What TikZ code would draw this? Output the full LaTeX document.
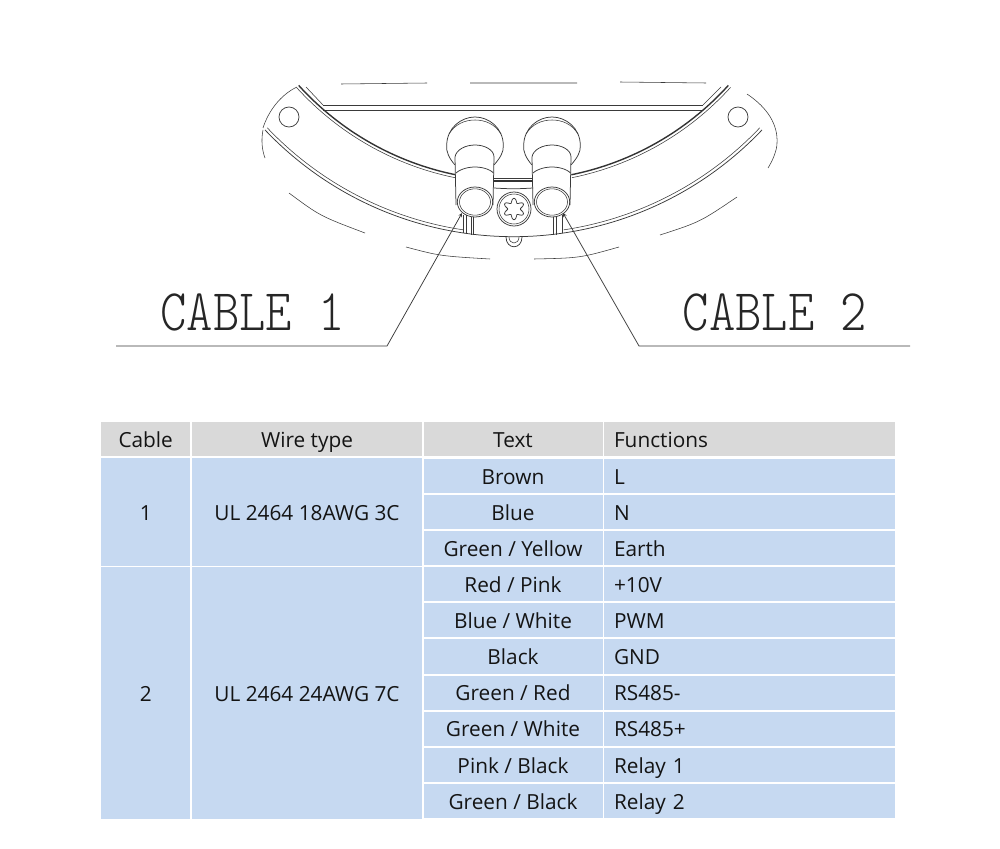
\documentclass[tikz,border=0pt]{standalone}
\usepackage{fontspec}
\setmainfont{Open Sans}
\newfontfamily\cablefont{Latin Modern Mono Light}
\usetikzlibrary{positioning}
\definecolor{headgray}{HTML}{D9D9D9}
\definecolor{rowblue}{HTML}{C6D9F1}
\definecolor{inkdark}{HTML}{3A3A3A}
\tikzset{
  cellbox/.style={inner sep=0pt,text height=21.5pt,text depth=5pt,font=\fontsize{20.8}{21}\selectfont,text=black!92},
  headcell/.style={cellbox,fill=headgray,minimum height=34.5pt},
  bodycell/.style={cellbox,fill=rowblue,minimum height=34.1pt},
  funccell/.style={inner xsep=10pt,text width=271pt,align=left},
  part/.style={draw=inkdark,line width=.75pt},
  thinpart/.style={draw=inkdark,line width=.55pt},
  heavypart/.style={draw=black!80,line width=1.4pt},
  cablelabel/.style={font=\fontsize{59}{59}\cablefont,xscale=.85,transform shape,text=black!85,inner sep=0pt}
}
\begin{document}
\begin{tikzpicture}[x=1pt,y=-1pt,node distance=36.1pt,on grid]
  \useasboundingbox (0,0) rectangle (1000,848);
  % top dashes
  \draw[thinpart] (341,84) -- (427,83) (470,83) -- (577,83) (620,82) -- (706,83);
  \draw[part] (323,105) -- (703,105);
  \draw[part] (323,110) -- (703,110);
  % body arcs
  \foreach \a/\b in {137.8/101.5,42.2/78.5} {
    \draw[heavypart] (513.5,-109.4) ++(\a:290) arc[start angle=\a,end angle=\b,radius=290];
    \draw[thinpart] (513.5,-109.4) ++(\a:293) arc[start angle=\a,end angle=\b,radius=293];
  }
  \draw[thinpart] (306,87) -- (323,105);
  \draw[thinpart] (721,87) -- (703,105);
  \foreach \a/\b in {136.5/98.5,43.5/81.5} {
    \draw[part] (513.5,-105.9) ++(\a:342.6) arc[start angle=\a,end angle=\b,radius=342.6];
    \draw[thinpart] (513.5,-105.9) ++(\a:339.5) arc[start angle=\a,end angle=\b,radius=339.5];
  }
  \draw[part] (513.5,-105.9) ++(98.5:342.6) arc[start angle=98.5,end angle=81.5,radius=342.6];
  % outer edge
  \draw[thinpart] (297,87) .. controls (280,95) and (268,112) .. (263,128);
  \draw[thinpart] (263,130) .. controls (261,140) and (262,150) .. (265,158);
  \draw[thinpart] (747,94) .. controls (768,108) and (778,125) .. (777,143) .. controls (777,150) and (773,160) .. (768,168);
  \draw[thinpart] (289,193) .. controls (320,216) .. (365,233);
  \draw[thinpart] (406,247) .. controls (440,256) .. (490,259);
  \draw[thinpart] (534,259) .. controls (580,258) .. (619,247);
  \draw[thinpart] (660,235) .. controls (700,222) .. (737,197);
  \draw[part] (289,117) circle[radius=10];
  \draw[part] (738,117) circle[radius=10];
  % cable glands
  \foreach \gx in {475,552} {
    \begin{scope}[shift={(\gx,0)}]
      \draw[part,fill=white] (-20,165) .. controls (-26,158) and (-29,152) .. (-28.3,145) .. controls (-28,128) and (-14,117) .. (0,117) .. controls (14,117) and (28,128) .. (28.3,145) .. controls (29,152) and (25,158) .. (19,165);
      \draw[thinpart] (-26,134) .. controls (-20,124) and (-10,120) .. (0,120) .. controls (10,120) and (20,124) .. (26,134);
      \draw[part,fill=white] (-19,205) -- (-20,157) .. controls (-19,150) and (-10,145) .. (0,145) .. controls (10,145) and (19,150) .. (19,157) -- (18,205);
      \draw[part] (-19,173) .. controls (-17,171) and (-10,167) .. (0,167) .. controls (10,167) and (17,171) .. (18.5,173);
      \draw[part,fill=white] (0,202) ellipse[x radius=17.7,y radius=15];
      \draw[thinpart] (0,202) ellipse[x radius=15.5,y radius=13.2];
    \end{scope}
  }
  % plate between the glands
  \draw[thinpart] (494,178.3) -- (533,178.3);
  \draw[heavypart,line width=1.2pt] (494,181) -- (533,181);
  \draw[part] (494,188) .. controls (510,189) and (517,189) .. (533,188);
  % screw
  \draw[part] (514,209) circle[radius=17];
  \draw[thinpart] (514,209) circle[radius=15];
  \draw[part] plot[domain=0:360,samples=73,smooth] ({514+(8.5-2.2*cos(6*\x))*cos(\x)},{209+(8.5-2.2*cos(6*\x))*sin(\x)});
  \draw[part] (506,237) .. controls (506,250) and (522,250) .. (522,237);
  \draw[thinpart] (509,237) .. controls (509,245) and (519,245) .. (519,237);
  % ticks
  \foreach \tx/\ta/\tb in {463/215/233,466/215/234,471/217/235,473/217/235,553/217/235,556/216/235,562/215/233} {
    \draw[thinpart] (\tx,\ta) -- (\tx,\tb);
  }
  % labels
  \node[cablelabel] (cable_1) at (252.5,312) {CABLE 1};
  \node[cablelabel] (cable_2) at (775,312) {CABLE 2};
  \coordinate (end_1) at (116,346);
  \coordinate (knee_1) at (387,346);
  \coordinate (tip_1) at (462,213);
  \coordinate (end_2) at (910,346);
  \coordinate (knee_2) at (639,346);
  \coordinate (tip_2) at (563,213);
  \draw[part,-stealth] (end_1) -- (knee_1) -- (tip_1);
  \draw[part,-stealth] (end_2) -- (knee_2) -- (tip_2);
  % table head
  \node[headcell,minimum width=89.5pt] (h_0) at (145.7,439) {Cable};
  \node[headcell,minimum width=229.5pt] (h_1) at (307,439) {Wire type};
  \node[headcell,minimum width=179pt] (t_0) at (513,439) {Text};
  \node[headcell,funccell] (f_0) at (749.5,439) {Functions};
  % merged cells
  \node[bodycell,minimum width=89.5pt,minimum height=107.5pt] (c_1) at (145.7,512) {1};
  \node[bodycell,minimum width=229.5pt,minimum height=107.5pt] (w_1) at (307,512) {UL 2464 18AWG 3C};
  \node[bodycell,minimum width=89.5pt,minimum height=252.5pt] (c_2) at (145.7,693) {2};
  \node[bodycell,minimum width=229.5pt,minimum height=252.5pt] (w_2) at (307,693) {UL 2464 24AWG 7C};
  % table rows
  \node[bodycell,minimum width=179pt] (t_1) at (513,476) {Brown};
  \node[bodycell,minimum width=179pt] (t_2) [below=of t_1] {Blue};
  \node[bodycell,minimum width=179pt] (t_3) [below=of t_2] {Green / Yellow};
  \node[bodycell,minimum width=179pt] (t_4) [below=of t_3] {Red / Pink};
  \node[bodycell,minimum width=179pt] (t_5) [below=of t_4] {Blue / White};
  \node[bodycell,minimum width=179pt] (t_6) [below=of t_5] {Black};
  \node[bodycell,minimum width=179pt] (t_7) [below=of t_6] {Green / Red};
  \node[bodycell,minimum width=179pt] (t_8) [below=of t_7] {Green / White};
  \node[bodycell,minimum width=179pt] (t_9) [below=of t_8] {Pink / Black};
  \node[bodycell,minimum width=179pt] (t_10) [below=of t_9] {Green / Black};
  \node[bodycell,funccell] (f_1) at (749.5,476) {L};
  \node[bodycell,funccell] (f_2) [below=of f_1] {N};
  \node[bodycell,funccell] (f_3) [below=of f_2] {Earth};
  \node[bodycell,funccell] (f_4) [below=of f_3] {+10V};
  \node[bodycell,funccell] (f_5) [below=of f_4] {PWM};
  \node[bodycell,funccell] (f_6) [below=of f_5] {GND};
  \node[bodycell,funccell] (f_7) [below=of f_6] {RS485-};
  \node[bodycell,funccell] (f_8) [below=of f_7] {RS485+};
  \node[bodycell,funccell] (f_9) [below=of f_8] {Relay 1};
  \node[bodycell,funccell] (f_10) [below=of f_9] {Relay 2};
\end{tikzpicture}
\end{document}
